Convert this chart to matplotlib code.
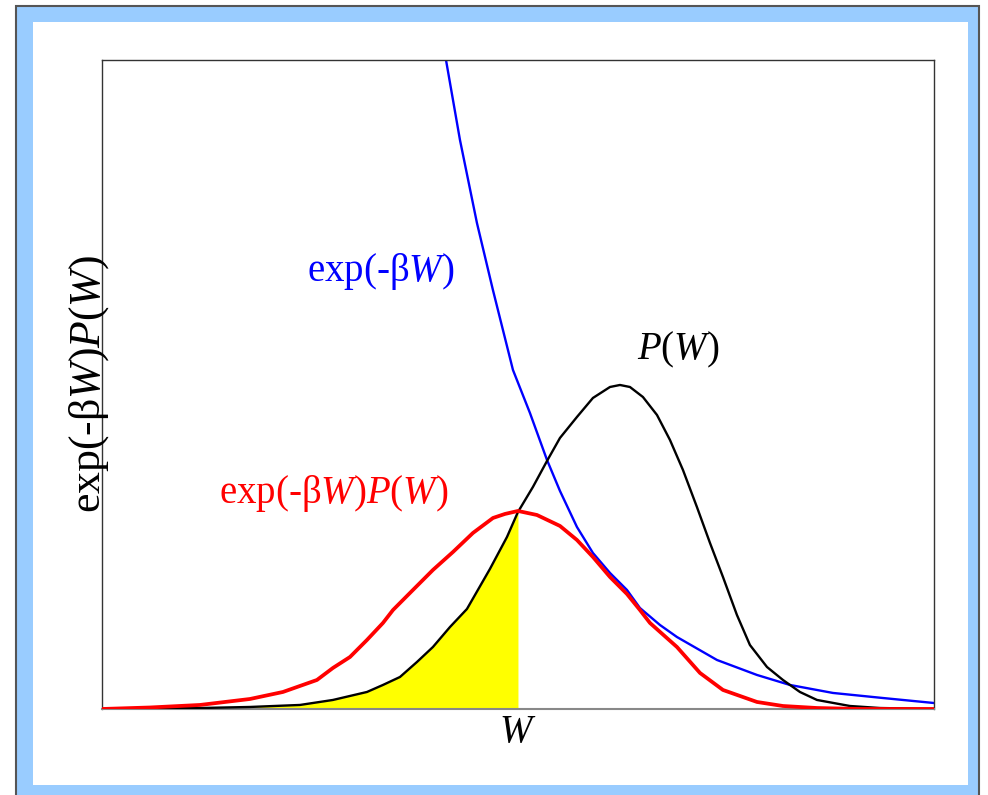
import matplotlib
matplotlib.use("Agg")
import matplotlib.pyplot as plt
from matplotlib.patches import Rectangle
import numpy as np

plt.rcParams['font.family'] = ['Liberation Serif', 'DejaVu Serif']
plt.rcParams['mathtext.fontset'] = 'custom'
plt.rcParams['mathtext.rm'] = 'Liberation Serif'
plt.rcParams['mathtext.it'] = 'Liberation Serif:italic'

# W axis runs 0..100, height axis runs 0..100 (arbitrary units)
w_black = [0, 5.77, 11.78, 17.79, 23.80, 27.76, 31.85, 33.77, 35.82, 37.86, 39.78, 41.83,
           43.87, 46.63, 48.68, 50.0, 51.80, 53.49, 55.05, 57.09, 59.01, 61.06, 62.26,
           63.46, 65.02, 66.71, 68.27, 69.83, 71.51, 73.08, 74.64, 76.32, 77.88, 79.93,
           81.85, 83.89, 85.94, 89.90, 93.51, 100]
p_w = [0, 0.08, 0.15, 0.31, 0.62, 1.39, 2.62, 3.70, 4.93, 7.24, 9.55, 12.63,
       15.41, 21.57, 26.50, 30.35, 34.21, 38.21, 41.76, 44.99, 47.92, 49.61, 49.92,
       49.61, 48.07, 45.30, 41.45, 36.83, 31.12, 25.58, 20.34, 14.48, 9.86, 6.47,
       4.47, 2.62, 1.39, 0.46, 0.15, 0]

w_red = [0, 5.77, 11.78, 17.79, 21.75, 25.84, 27.76, 29.81, 31.85, 33.77, 34.98, 37.38,
         39.78, 42.19, 44.59, 47.0, 48.44, 50.0, 52.28, 55.05, 57.09, 59.01, 61.06,
         63.10, 64.66, 65.87, 69.11, 71.88, 74.64, 78.73, 81.85, 85.94, 91.11, 100]
boltz_p = [0, 0.23, 0.62, 1.54, 2.62, 4.47, 6.32, 8.01, 10.63, 13.25, 15.25, 18.34,
           21.42, 24.19, 27.12, 29.43, 30.05, 30.51, 29.89, 28.20, 26.04, 23.42, 20.34,
           17.72, 15.25, 13.25, 9.55, 5.55, 2.93, 1.08, 0.46, 0.15, 0, 0]

w_blue = [40.0, 41.35, 43.03, 45.07, 46.99, 49.40, 51.44, 53.49, 55.05, 57.09, 59.01,
          61.06, 63.10, 64.66, 67.07, 69.11, 73.92, 78.73, 82.69, 87.86, 93.87, 100]
boltz = [110.0, 100.0, 87.67, 74.88, 64.56, 52.23, 45.61, 38.37, 33.59, 28.04, 24.04,
         20.96, 18.34, 15.56, 12.94, 11.09, 7.55, 5.24, 3.70, 2.47, 1.69, 0.92]

w_cut = 50.0

fig = plt.figure(figsize=(9.88, 7.95), dpi=100)

# light blue frame around the plot
fig.patches.append(Rectangle((0.0162, -0.02), 0.9747, 1.0125, transform=fig.transFigure,
                             facecolor='#99ccff', edgecolor='#555555', linewidth=1.5, zorder=-2))
fig.patches.append(Rectangle((0.0334, 0.0126), 0.9464, 0.9597, transform=fig.transFigure,
                             facecolor='white', edgecolor='none', zorder=-1))

ax = fig.add_axes([0.1032, 0.1082, 0.8421, 0.8164])
ax.patch.set_alpha(0)

wb = np.array(w_black)
pb = np.array(p_w)
ax.fill_between(wb, pb, 0, where=wb <= w_cut, color='#ffff00', linewidth=0, zorder=1)
ax.plot(w_blue, boltz, color='#0000ff', linewidth=1.7, zorder=2, solid_joinstyle='round')
ax.plot(w_black, p_w, color='black', linewidth=1.7, zorder=3, solid_joinstyle='round')
ax.plot(w_red, boltz_p, color='#ff0000', linewidth=2.7, zorder=4, solid_joinstyle='round')

ax.set_xlim(0, 100)
ax.set_ylim(0, 100)
ax.set_xticks([])
ax.set_yticks([])
for side in ['left', 'top', 'right']:
    ax.spines[side].set_color('#333333')
    ax.spines[side].set_linewidth(1.0)
ax.spines['bottom'].set_color('#888888')
ax.spines['bottom'].set_linewidth(1.5)

fs = 28
ax.text(33.5, 67.4, r'exp(-β$W$)', color='#0000ff', fontsize=fs, ha='center', va='center')
ax.text(69.3, 55.3, r'$P$($W$)', color='black', fontsize=fs, ha='center', va='center')
ax.text(27.9, 33.2, r'exp(-β$W$)$P$($W$)', color='#ff0000', fontsize=fs, ha='center', va='center')
ax.text(0.5, -0.037, r'$W$', fontsize=fs, ha='center', va='center', transform=ax.transAxes)
ax.text(-0.015, 0.50, r'exp(-β$W$)$P$($W$)', fontsize=31.5, rotation=90,
        ha='center', va='center', transform=ax.transAxes)

fig.savefig('out.png', dpi=100)
